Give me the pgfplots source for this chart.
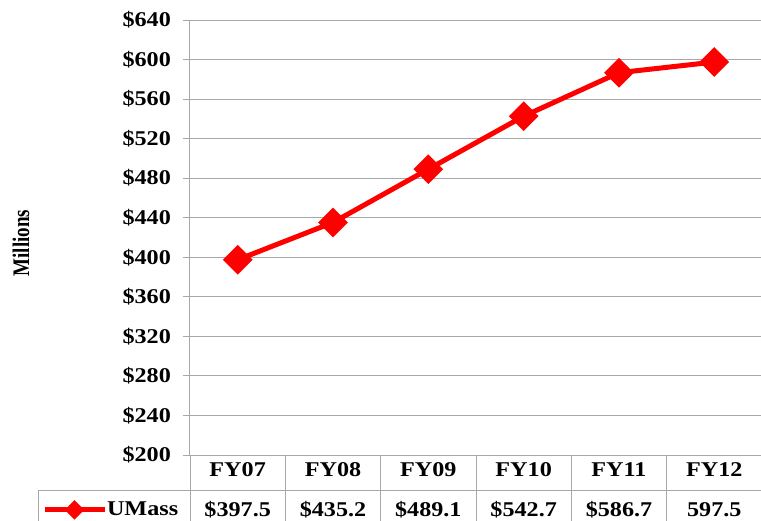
\documentclass[border=0pt]{standalone}
\usepackage{fontspec}
\setmainfont{Liberation Serif}
\usepackage{pgfplots}
\pgfplotsset{compat=1.18}
\definecolor{gridgray}{RGB}{168,168,168}
\newcommand{\lblfont}{\fontsize{21}{24}\selectfont\bfseries}

\begin{document}
\begin{tikzpicture}[x=1pt,y=1pt]
\useasboundingbox (0,0) rectangle (761,520);
\clip (0,0) rectangle (761,520);
\begin{axis}[
  at={(190pt,65pt)}, anchor=south west,
  scale only axis, width=572pt, height=435pt,
  xmin=0, xmax=6, ymin=200, ymax=640,
  axis y line=left, axis x line=bottom,
  axis line style={-, gridgray, line width=1pt},
  ytick={200,240,...,640},
  yticklabel={\pgfmathparse{int(\tick)}\$\pgfmathresult},
  yticklabel style={font=\lblfont, xscale=1.15, xshift=-7pt},
  ytick style={gridgray, line width=1pt},
  tick align=outside, major tick length=7pt,
  xtick={0.5,1.5,...,5.5},
  xticklabels={FY07,FY08,FY09,FY10,FY11,FY12},
  x tick style={draw=none},
  xticklabel style={font=\lblfont, xscale=1.15, anchor=center, yshift=-8pt},
  ymajorgrids, grid style={gridgray, line width=1pt},
  clip=false,
  legend style={at={(-0.259,-0.126)}, anchor=west, draw=none, fill=none,
    font=\lblfont, inner sep=0pt},
  legend image code/.code={
    \draw[#1, mark repeat=2, mark phase=2, mark options={rotate=45, scale=0.55, solid}]
      plot coordinates {(0pt,0pt) (30pt,0pt) (60pt,0pt)};},
]
\addplot[red, line width=5pt, mark=square*, mark size=8pt,
  mark options={rotate=45, solid}] coordinates {
  (0.5,397.5) (1.5,435.2) (2.5,489.1) (3.5,542.7) (4.5,586.7) (5.5,597.5)
};
\addlegendentry{\hspace{-2pt}\scalebox{1.15}[1]{UMass}}
\foreach \v [count=\i from 0] in {\$397.5,\$435.2,\$489.1,\$542.7,\$586.7,597.5} {
  \edef\temp{\noexpand\node[font=\noexpand\lblfont, xscale=1.15] at (axis cs:\i+0.5,144.4) {\v};}
  \temp
}
\end{axis}
% data table grid
\draw[gridgray, line width=1pt] (38,30) -- (761,30);
\draw[gridgray, line width=1pt] (38,30) -- (38,-5);
\foreach \k in {0,...,6} {
  \draw[gridgray, line width=1pt] ({190+95.333*\k},65) -- ({190+95.333*\k},-5);
}
\node[rotate=90, font=\fontsize{19}{22}\selectfont\bfseries] at (21,277) {\scalebox{1}[1.25]{Millions}};
\end{tikzpicture}
\end{document}
